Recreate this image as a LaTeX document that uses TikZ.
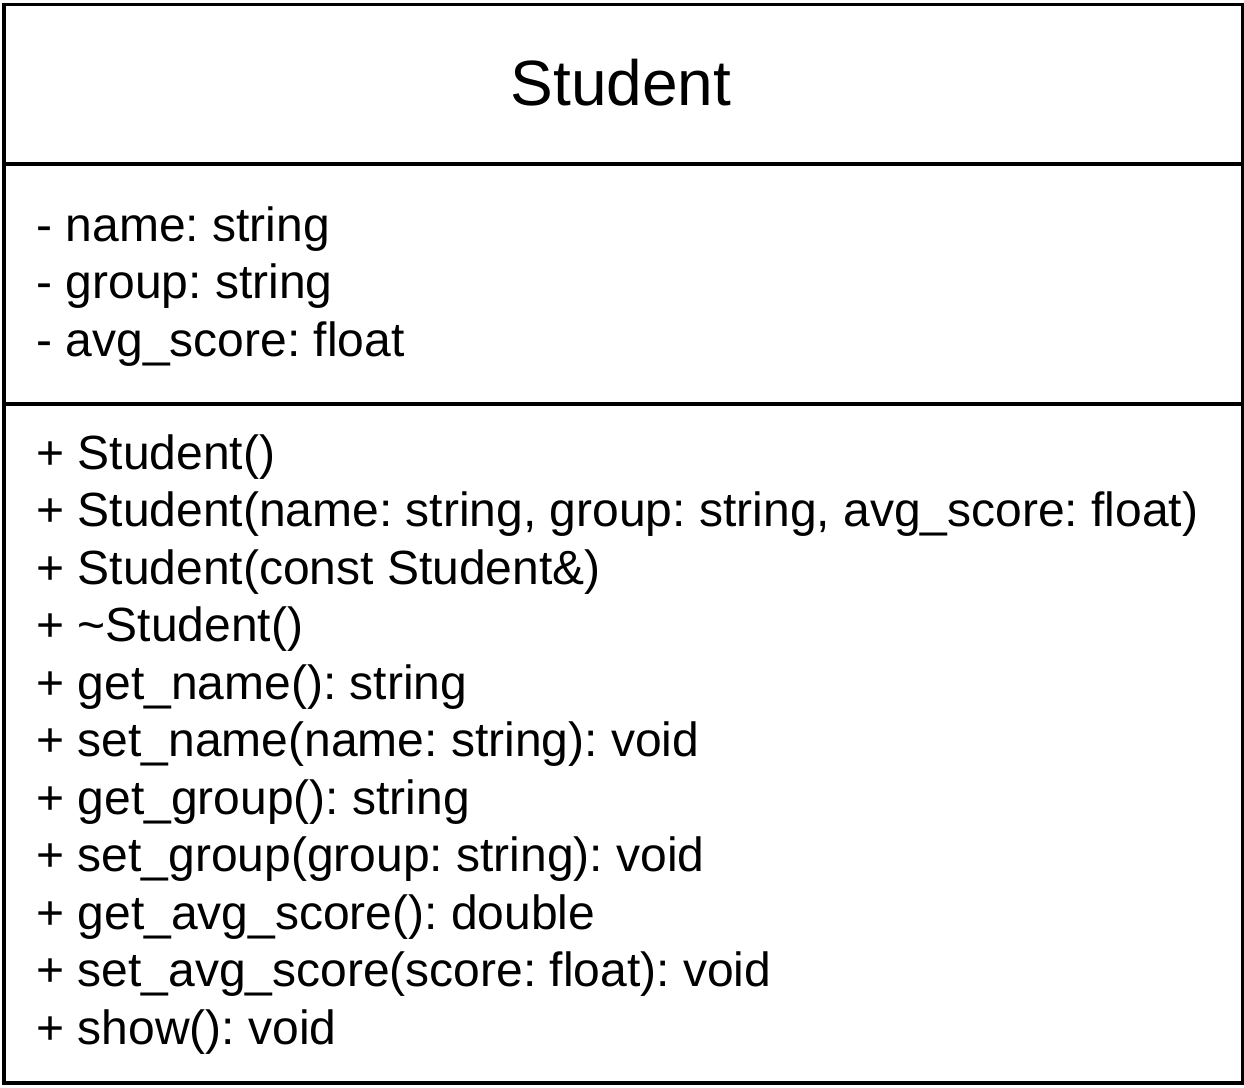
\documentclass[tikz,border=0pt]{standalone}
\usepackage{fontspec}
\setmainfont{Liberation Sans}
\usetikzlibrary{positioning}
\frenchspacing

\begin{document}
\begin{tikzpicture}[x=0.5pt,y=-0.5pt]

% GLOBAL SETTINGS
\newcommand{\lineskipx}{57.5}
\newcommand{\leftx}{36}
\tikzset{
  compart/.style={draw, line width=1.8pt, rectangle, inner sep=0pt, anchor=north west},
  member/.style={anchor=base west, inner sep=0pt, font=\fontsize{24pt}{28pt}\selectfont},
  classname/.style={anchor=base, inner sep=0pt, font=\fontsize{32pt}{38pt}\selectfont}
}
\useasboundingbox (0,0) rectangle (1244,1088);

% COMPARTMENTS
\node[compart, minimum width=619pt, minimum height=79.75pt] (head) at (2.5,2.5) {};
\node[compart, minimum width=619pt, minimum height=120pt] (attrs) at (2.5,162) {};
\node[compart, minimum width=619pt, minimum height=339.5pt] (ops) at (2.5,402) {};

% CLASS NAME
\node[classname] (title) at (621,105) {Student};

% ATTRIBUTES
\path foreach \txt [count=\i] in {
  {- name: string},
  {- group: string},
  {- avg\_score: float}} {
  (\leftx,{241+(\i-1)*\lineskipx}) node[member] (A\i) {\txt}
};

% OPERATIONS
\path foreach \txt [count=\i] in {
  {+ Student()},
  {+ Student(name: string, group: string, avg\_score: float)},
  {+ Student(const Student\&)},
  {+ \textasciitilde Student()},
  {+ get\_name(): string},
  {+ set\_name(name: string): void},
  {+ get\_group(): string},
  {+ set\_group(group: string): void},
  {+ get\_avg\_score(): double},
  {+ set\_avg\_score(score: float): void},
  {+ show(): void}} {
  (\leftx,{469+(\i-1)*\lineskipx}) node[member] (O\i) {\txt}
};

\end{tikzpicture}
\end{document}
